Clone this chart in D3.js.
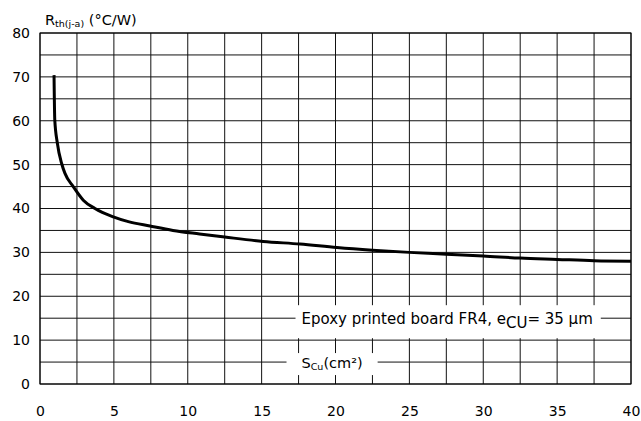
<!DOCTYPE html>
<html>
<head>
<meta charset="utf-8">
<script src="https://cdn.jsdelivr.net/npm/d3@7"></script>
<style>
  body { margin: 0; background: #fff; }
  text { font-family: "DejaVu Sans", sans-serif; fill: #000; }
</style>
</head>
<body>
<svg id="chart" width="641" height="421"></svg>
<script>
// Copper area (cm²) vs thermal resistance (°C/W)
const areaCm2 = [0.95, 1.0, 1.17, 1.47, 1.69, 2.25, 2.93, 3.72, 4.96, 5.98, 7.44, 9.0, 10.8, 12.5, 15.1, 17.6, 20.1, 22.5, 25, 27.5, 30, 32.5, 35, 37.5, 40];
const rthValues = [70.4, 60.2, 55, 50.2, 48, 45, 41.9, 40, 38.1, 37, 36, 35, 34.2, 33.5, 32.5, 31.9, 31.1, 30.5, 30.0, 29.6, 29.2, 28.7, 28.4, 28.1, 28.0];
const xTickLabels = [0, 5, 10, 15, 20, 25, 30, 35, 40];
const yTickLabels = [0, 10, 20, 30, 40, 50, 60, 70, 80];

const svg = d3.select("#chart");
const margin = { top: 33, right: 10, bottom: 37, left: 40 };
const width = 641 - margin.left - margin.right;
const height = 421 - margin.top - margin.bottom;

const x = d3.scaleLinear().domain([0, 40]).range([0, width]);
const y = d3.scaleLinear().domain([0, 80]).range([height, 0]);

const g = svg.append("g").attr("transform", `translate(${margin.left},${margin.top})`);

// Grid
g.selectAll(".vgrid")
  .data(d3.range(0, 40.01, 2.5))
  .enter().append("line")
  .attr("x1", d => x(d)).attr("x2", d => x(d))
  .attr("y1", 0).attr("y2", height)
  .style("stroke", "#111").style("stroke-width", 1);

g.selectAll(".hgrid")
  .data(d3.range(0, 80.01, 5))
  .enter().append("line")
  .attr("x1", 0).attr("x2", width)
  .attr("y1", d => y(d)).attr("y2", d => y(d))
  .style("stroke", "#111").style("stroke-width", 1);

// Axes (labels only)
const xAxis = d3.axisBottom(x).tickValues(xTickLabels).tickSize(0).tickPadding(0);
const yAxis = d3.axisLeft(y).tickValues(yTickLabels).tickSize(0).tickPadding(10);

g.append("g")
  .attr("class", "x-axis")
  .attr("transform", `translate(0, ${height})`)
  .call(xAxis)
  .call(a => a.select(".domain").remove())
  .selectAll("text")
  .attr("dy", null)
  .attr("y", 32)
  .style("font-size", "14px");

g.append("g")
  .attr("class", "y-axis")
  .call(yAxis)
  .call(a => a.select(".domain").remove())
  .selectAll("text")
  .style("font-size", "14px");

// Annotation labels on white boxes
const boxLayer = g.append("g");

const epoxy = g.append("text")
  .attr("x", x(17.7))
  .attr("y", y(15) + 6)
  .style("font-size", "15px");
epoxy.append("tspan").text("Epoxy printed board FR4, e");
epoxy.append("tspan").attr("dy", 4).text("CU");
epoxy.append("tspan").attr("dy", -4).text("= 35 µm");

const scu = g.append("text")
  .attr("x", x(17.7))
  .attr("y", y(5) + 6)
  .style("font-size", "14.5px");
scu.append("tspan").text("S");
scu.append("tspan").attr("dy", 2).style("font-size", "9.5px").text("Cu");
scu.append("tspan").attr("dy", -2).text("(cm²)");

// [text, pad left, pad right, pad top, pad bottom]
[[epoxy, 6, 8, 5, 6], [scu, 15, 15, 2, 3]].forEach(([t, pl, pr, pt, pb]) => {
  const b = t.node().getBBox();
  boxLayer.append("rect")
    .attr("x", b.x - pl)
    .attr("y", b.y - pt)
    .attr("width", b.width + pl + pr)
    .attr("height", b.height + pt + pb)
    .style("fill", "#fff");
});

// Curve
const line = d3.line()
  .x((d, i) => x(areaCm2[i]))
  .y(d => y(d))
  .curve(d3.curveMonotoneX);

g.append("path")
  .datum(rthValues)
  .attr("d", line)
  .style("fill", "none")
  .style("stroke", "#000")
  .style("stroke-width", 3);

// Frame
g.append("rect")
  .attr("width", width).attr("height", height)
  .style("fill", "none").style("stroke", "#000").style("stroke-width", 1);

// Y title
const title = svg.append("text")
  .attr("x", 45).attr("y", 25)
  .style("font-size", "14.5px");
title.append("tspan").text("R");
title.append("tspan").attr("dy", 2).style("font-size", "9.5px").text("th(j-a)");
title.append("tspan").attr("dy", -2).text(" (°C/W)");
</script>
</body>
</html>
